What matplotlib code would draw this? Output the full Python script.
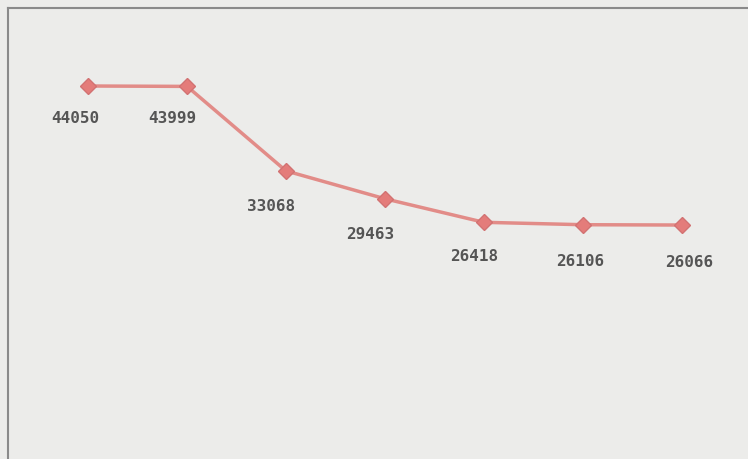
import matplotlib
matplotlib.use("Agg")
import matplotlib.pyplot as plt

# data
categories = ["1", "2", "3", "4", "5", "6", "7"]
values = [44050, 43999, 33068, 29463, 26418, 26106, 26066]
labels = ["44050", "43999", "33068", "29463", "26418", "26106", "26066"]

# label nudges (pixels) so they sit like in the original
dx = [-13, -15, -15, -15, -10, -3, 7]
dy = [-32, -32, -36, -36, -34, -37, -37]

fig = plt.figure(figsize=(7.48, 4.59), dpi=100)
fig.patch.set_facecolor("#ececea")
ax = fig.add_axes([8 / 748, 0, 1 - 8 / 748, 1 - 8 / 459])
ax.set_facecolor("#ececea")

x = range(len(categories))
ax.plot(x, values, color="#e28c88", lw=2.5, marker="D", ms=8.5,
        mfc="#e47c7a", mec="#d27272", zorder=3)

for i, v in enumerate(values):
    ax.annotate(labels[i], (i, v), xytext=(dx[i] * 0.72, dy[i] * 0.72),
                textcoords="offset points", ha="center", va="center",
                fontsize=11.5, family="DejaVu Sans Mono", fontweight="bold",
                color="#555555")

ax.set_xlim(-0.81, 6.67)
ax.set_ylim(-4200, 54140)
ax.set_xticks([])
ax.set_yticks([])
for side in ["right", "bottom"]:
    ax.spines[side].set_visible(False)
for side in ["left", "top"]:
    ax.spines[side].set_color("#8a8a8a")
    ax.spines[side].set_linewidth(1.5)

fig.savefig("out.png", dpi=100, facecolor=fig.get_facecolor())
